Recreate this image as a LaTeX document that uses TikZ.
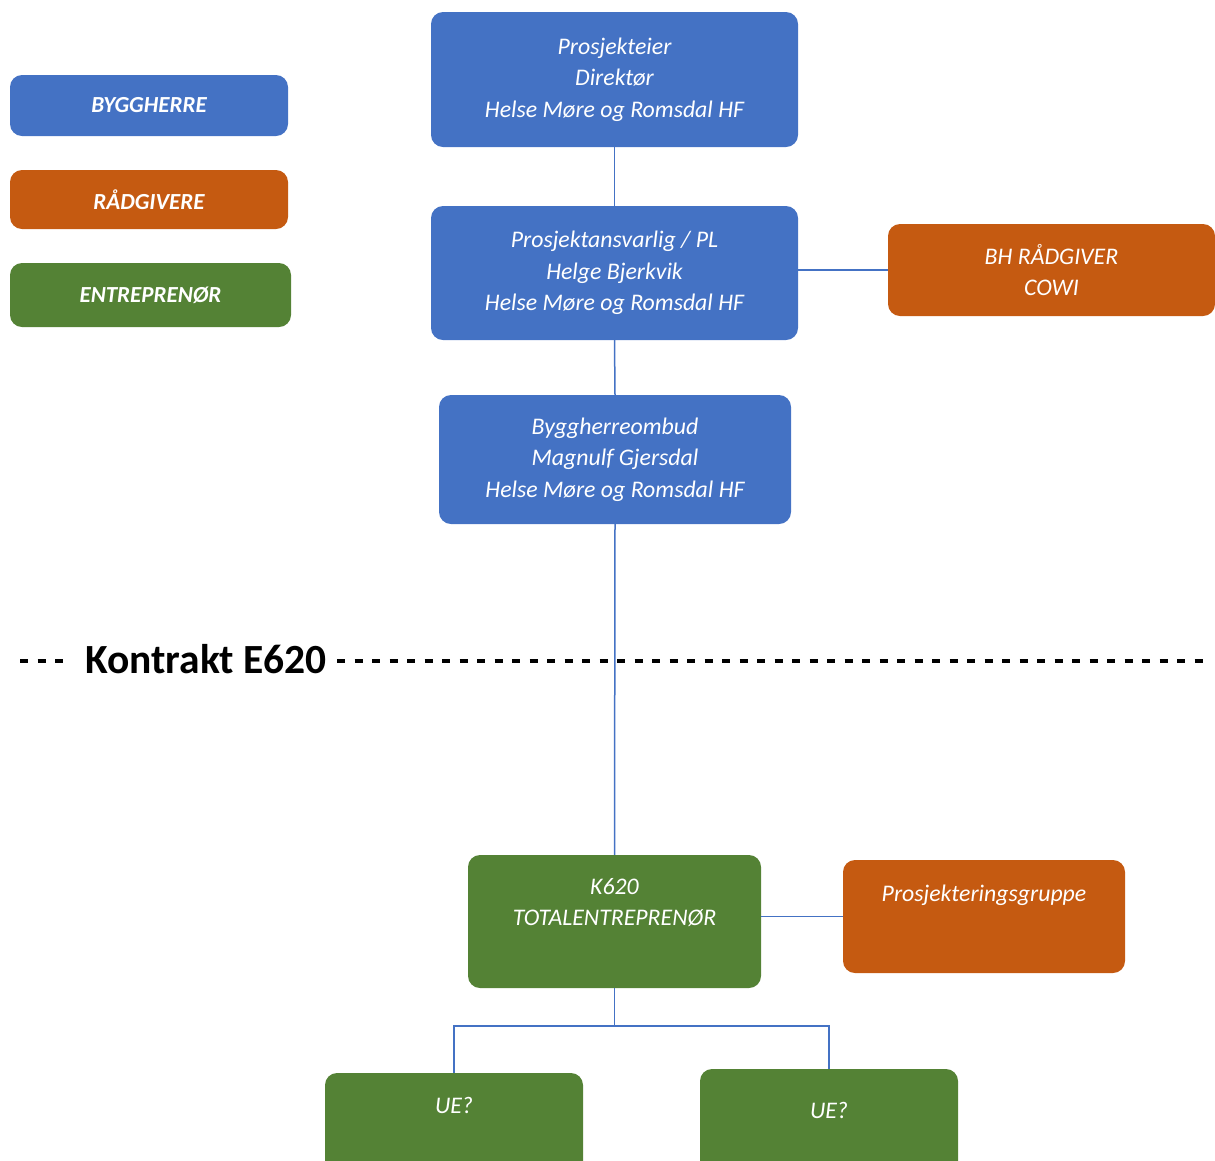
\documentclass[tikz,border=0pt]{standalone}
\usepackage{fontspec}
\setmainfont{Carlito}
\definecolor{bhblue}{HTML}{4472C4}
\definecolor{rgorange}{HTML}{C55A11}
\definecolor{engreen}{HTML}{548235}
\begin{document}
\begin{tikzpicture}[x=1pt,y=-1pt,
  box/.style={rounded corners=12pt, inner sep=0pt, text=white, align=center,
    font=\itshape\fontsize{23.8}{31.5}\selectfont},
  legbox/.style={box, font=\bfseries\itshape\fontsize{23}{26}\selectfont},
  txt/.style={text=white, inner sep=0pt, align=center, font=\itshape\fontsize{23.8}{31.5}\selectfont},
  conn/.style={draw=bhblue, line width=1.5pt},
  contract/.style={line width=3.5pt, dash pattern=on 8pt off 9.5pt}]
\useasboundingbox (0,0) rectangle (1215,1160);
% legend
\node[legbox, fill=bhblue, minimum width=278pt, minimum height=61pt] (leg1) at (149,105.5) {BYGGHERRE};
\node[legbox, fill=rgorange, minimum width=278pt, minimum height=59pt] (leg2) at (149,199.5) {RÅDGIVERE};
\node[legbox, fill=engreen, minimum width=281pt, minimum height=64pt] (leg3) at (150.5,295) {ENTREPRENØR};
% main boxes
\node[box, fill=bhblue, minimum width=367pt, minimum height=135pt] (pe) at (614.5,79.5)
  {Prosjekteier\\Direktør\\Helse Møre og Romsdal HF};
\node[box, fill=bhblue, minimum width=367pt, minimum height=134pt] (pa) at (614.5,273)
  {Prosjektansvarlig / PL\\Helge Bjerkvik\\Helse Møre og Romsdal HF};
\node[box, fill=rgorange, minimum width=327pt, minimum height=92pt] (bh) at (1051.5,270)
  {BH RÅDGIVER\\COWI};
\node[box, fill=bhblue, minimum width=352pt, minimum height=129pt] (bo) at (615,459.5)
  {Byggherreombud\\Magnulf Gjersdal\\Helse Møre og Romsdal HF};
\node[box, fill=engreen, minimum width=293pt, minimum height=133pt] (k620) at (614.5,921.5) {};
\node[txt] (k620t) at (614.5,902.5) {K620\\TOTALENTREPRENØR};
\node[box, fill=rgorange, minimum width=282pt, minimum height=113pt] (pg) at (984,916.5) {};
\node[txt] (pgt) at (984,895) {Prosjekteringsgruppe};
\node[box, fill=engreen, minimum width=258pt, minimum height=104pt] (ue1) at (454,1125) {};
\node[txt] (ue1t) at (454,1105) {UE?};
\node[box, fill=engreen, minimum width=258pt, minimum height=108pt] (ue2) at (829,1123) {};
\node[txt] (ue2t) at (829,1110) {UE?};
% contract line
\node[inner sep=0pt, font=\bfseries\fontsize{41.5}{44}\selectfont, anchor=west] (kt) at (85,659) {Kontrakt E620};
\coordinate (dl) at (20,661);
\coordinate (dr) at (1212,661);
\draw[contract] (dl) -- ([xshift=-14pt]kt.west |- dl);
\draw[contract] ([xshift=10pt]kt.east |- dr) -- (dr);
% connectors
\draw[conn] (pe.south) -- (pa.north);
\draw[conn] (bh.west) -- (bh.west -| pa.east);
\draw[conn] (pa.south) -- (bo.north);
\draw[conn] (bo.south) -- (k620.north);
\draw[conn] (pg.west) -- (pg.west -| k620.east);
\coordinate (jn) at (614.5,1026);
\draw[conn] (k620.south) -- (jn);
\draw[conn] (ue1.north) |- (jn) -| (ue2.north);
\end{tikzpicture}
\end{document}
